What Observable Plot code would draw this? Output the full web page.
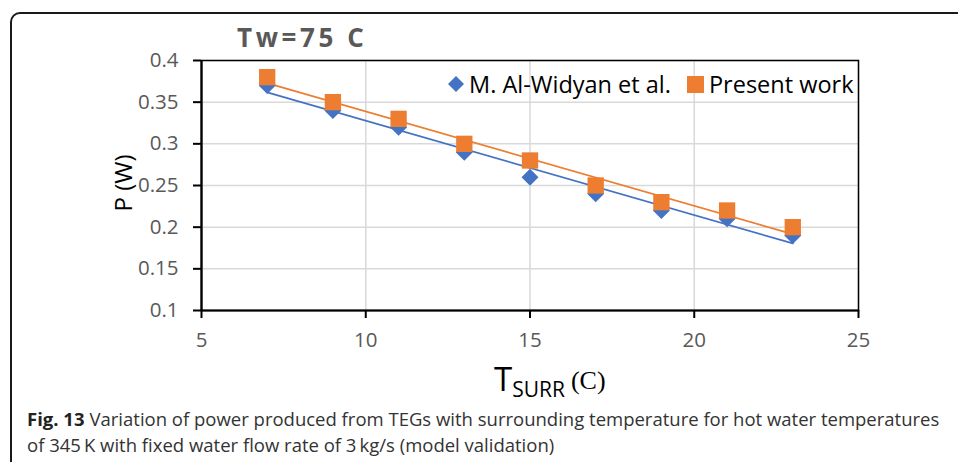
<!DOCTYPE html>
<html><head><meta charset="utf-8">
<script src="https://cdn.jsdelivr.net/npm/d3@7"></script>
<script src="https://cdn.jsdelivr.net/npm/@observablehq/plot@0.6"></script>
<style>
body{margin:0;background:#fff;}
#wrap{position:relative;width:958px;height:462px;overflow:hidden;font-family:"Open Sans",sans-serif;background:#fff;}
#frame{position:absolute;left:10px;top:12px;width:1000px;height:520px;border:2px solid #1a1a1a;border-radius:10px;box-sizing:border-box;}
#chart{position:absolute;left:0;top:0;}
#chart svg text{font-size:20.5px;}
#title{position:absolute;left:237px;top:19px;font-size:26px;font-weight:bold;color:#595959;letter-spacing:3.6px;white-space:nowrap;}
#ylab{position:absolute;left:122px;top:183px;transform:translate(-50%,-50%) rotate(-90deg);font-size:24px;color:#000;white-space:nowrap;}
#xlab{position:absolute;left:494px;top:356px;color:#000;white-space:nowrap;}
#xlab .t{font-size:33px;}
#xlab .s{font-size:21px;position:relative;top:6px;}
#xlab .c{font-family:"Liberation Serif",serif;font-size:26px;margin-left:6px;position:relative;top:-2px;}
#legend{position:absolute;top:68px;left:448px;font-size:23.5px;color:#000;white-space:nowrap;display:flex;align-items:center;}
#legend .item{display:flex;align-items:center;margin-right:16px;}
#legend svg{margin-right:5px;}
#caption{position:absolute;left:27px;top:406px;font-size:18.5px;line-height:26px;color:#333;white-space:nowrap;}
#caption .b{font-weight:bold;color:#222;margin-right:5px;}
</style>
</head><body>
<div id="wrap">
  <div id="frame"></div>
  <div id="chart"></div>
  <div id="title"></div>
  <div id="ylab">P (W)</div>
  <div id="xlab"><span class="t">T</span><span class="s">SURR</span><span class="c">(C)</span></div>
  <div id="legend"></div>
  <div id="caption"></div>
</div>
<script>
const titleText = "Tw=75 C";
const tSurr = [7, 9, 11, 13, 15, 17, 19, 21, 23];
const alWidyan = [0.37, 0.34, 0.32, 0.29, 0.26, 0.24, 0.22, 0.21, 0.19];
const presentWork = [0.38, 0.35, 0.33, 0.30, 0.28, 0.25, 0.23, 0.22, 0.20];
const seriesNames = ["M. Al-Widyan et al.", "Present work"];
const seriesColors = ["#4472C4", "#ED7D31"];
const xTicks = [5, 10, 15, 20, 25];
const yTicks = [0.1, 0.15, 0.2, 0.25, 0.3, 0.35, 0.4];
const captionBold = "Fig. 13";
const captionLines = [
  "Variation of power produced from TEGs with surrounding temperature for hot water temperatures",
  "of 345\u2009K with fixed water flow rate of 3\u2009kg/s (model validation)"
];

const blue = tSurr.map((x, i) => ({x, y: alWidyan[i]}));
const orange = tSurr.map((x, i) => ({x, y: presentWork[i]}));

const chart = Plot.plot({
  width: 958, height: 400,
  marginLeft: 201, marginRight: 100, marginTop: 60, marginBottom: 90,
  style: {fontFamily: "Open Sans, sans-serif", fontSize: "20.5px", background: "transparent"},
  x: {domain: [5, 25]},
  y: {domain: [0.1, 0.4]},
  marks: [
    Plot.gridX(xTicks, {stroke: "#d9d9d9", strokeOpacity: 1, strokeWidth: 1.5}),
    Plot.gridY(yTicks, {stroke: "#d9d9d9", strokeOpacity: 1, strokeWidth: 1.5}),
    Plot.frame({stroke: "#000", strokeWidth: 1.5}),
    Plot.axisX(xTicks, {tickSize: 8, tickPadding: 14, stroke: "#000", fill: "#595959", strokeWidth: 2, label: null, tickFormat: d => String(d), fontSize: 20.5}),
    Plot.axisY(yTicks, {tickSize: 8, tickPadding: 15, stroke: "#000", fill: "#595959", strokeWidth: 2, label: null, tickFormat: d => String(+d.toFixed(2)), fontSize: 20.5}),
    Plot.ruleX([5], {stroke: "#000", strokeWidth: 2.2}),
    Plot.ruleY([0.1], {stroke: "#000", strokeWidth: 2.2}),
    Plot.linearRegressionY(blue, {x: "x", y: "y", stroke: seriesColors[0], strokeWidth: 1.75, ci: 0}),
    Plot.linearRegressionY(orange, {x: "x", y: "y", stroke: seriesColors[1], strokeWidth: 1.75, ci: 0}),
    Plot.dot(blue, {x: "x", y: "y", symbol: "square", rotate: 45, r: 6.8, fill: seriesColors[0], stroke: null}),
    Plot.dot(orange, {x: "x", y: "y", symbol: "square", r: 9.2, fill: seriesColors[1], stroke: null})
  ]
});
document.getElementById("chart").appendChild(chart);

document.getElementById("title").textContent = titleText;

const leg = document.getElementById("legend");
seriesNames.forEach((name, i) => {
  const item = document.createElement("div");
  item.className = "item";
  const shape = i === 0
    ? `<svg width="16" height="16"><polygon points="8,0 16,8 8,16 0,8" fill="${seriesColors[0]}"/></svg>`
    : `<svg width="17" height="17"><rect width="17" height="17" fill="${seriesColors[1]}"/></svg>`;
  item.innerHTML = shape + `<span>${name}</span>`;
  leg.appendChild(item);
});

const cap = document.getElementById("caption");
const l1 = document.createElement("div");
const bs = document.createElement("span");
bs.className = "b";
bs.textContent = captionBold;
const t1 = document.createElement("span");
t1.textContent = captionLines[0];
l1.appendChild(bs); l1.appendChild(t1);
const l2 = document.createElement("div");
l2.textContent = captionLines[1];
cap.appendChild(l1); cap.appendChild(l2);
</script>
</body></html>
